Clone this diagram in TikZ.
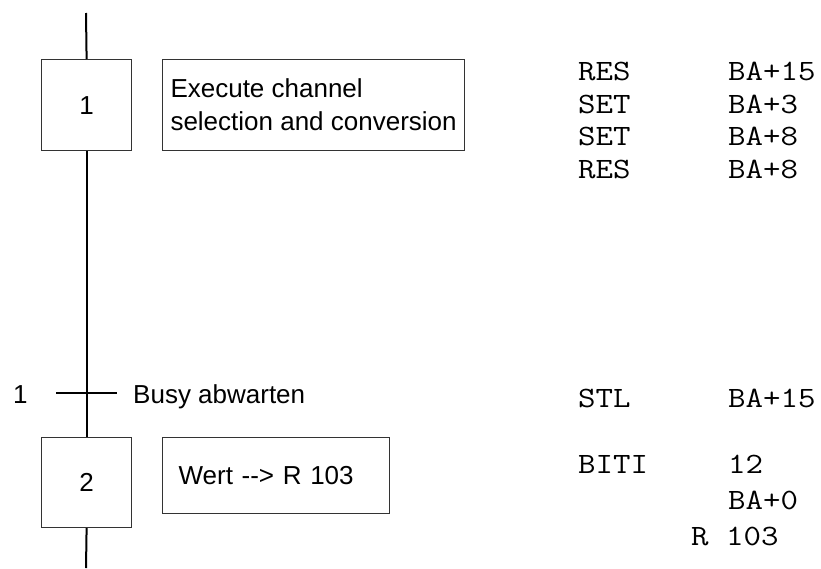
\documentclass[tikz,border=0pt]{standalone}
\usepackage{fontspec}
\setmainfont{Liberation Sans}
\newfontfamily\codefont[FakeStretch=1.15]{Latin Modern Mono}
\begin{document}
\begin{tikzpicture}[x=1pt,y=-1pt,
  flow/.style={line width=2pt,black},
  stepbox/.style={draw=black!80,line width=1.2pt,minimum width=90pt,minimum height=91pt,
    inner sep=0pt,anchor=north west,font=\fontsize{26}{28}\selectfont},
  actionbox/.style={draw=black!80,line width=1.2pt,anchor=north west,
    font=\fontsize{26}{33}\selectfont},
  label/.style={inner sep=0pt,anchor=base west,font=\fontsize{26}{28}\selectfont},
  code/.style={inner sep=0pt,anchor=base west,font=\codefont\fontsize{29.5}{31}\selectfont}]
\useasboundingbox (0,0) rectangle (821,568);

% steps
\node[stepbox] (s1) at (41,59) {1};
\node[stepbox,minimum height=90pt] (s2) at (41,437) {2};

% actions
\node[actionbox,minimum width=302pt,minimum height=91pt,align=left,inner sep=0pt]
  (a1) at (162,59) {Execute channel\\selection and conversion};
\node[actionbox,minimum height=76pt,text width=195pt,inner xsep=16pt,inner ysep=0pt,align=left]
  (a2) at (162,437) {Wert -{}-> R 103};

% sequence line
\coordinate (top) at (86,13);
\coordinate (bot) at (86,568);
\draw[flow] (top) -- (s1.north);
\draw[flow] (s1.south) -- (s2.north);
\draw[flow] (s2.south) -- (bot);

% transition 1
\coordinate (tl) at (56,393);
\coordinate (tr) at (117,393);
\draw[flow] (tl) -- (tr);
\node[label] (tn) at (13,403) {1};
\node[label] (tc) at (133,403) {Busy abwarten};

% instruction list
\node[code] (c1) at (578,80) {RES};
\node[code] (c2) at (578,113) {SET};
\node[code] (c3) at (578,145) {SET};
\node[code] (c4) at (578,178) {RES};
\node[code] (d1) at (728,80) {BA+15};
\node[code] (d2) at (728,113) {BA+3};
\node[code] (d3) at (728,145) {BA+8};
\node[code] (d4) at (728,178) {BA+8};

\node[code] (c5) at (578,407) {STL};
\node[code] (d5) at (728,407) {BA+15};

\node[code] (c6) at (578,473) {BITI};
\node[code] (d6) at (728,473) {12};
\node[code] (d7) at (728,509) {BA+0};
\node[code] (d8) at (691,545) {R 103};
\end{tikzpicture}
\end{document}
